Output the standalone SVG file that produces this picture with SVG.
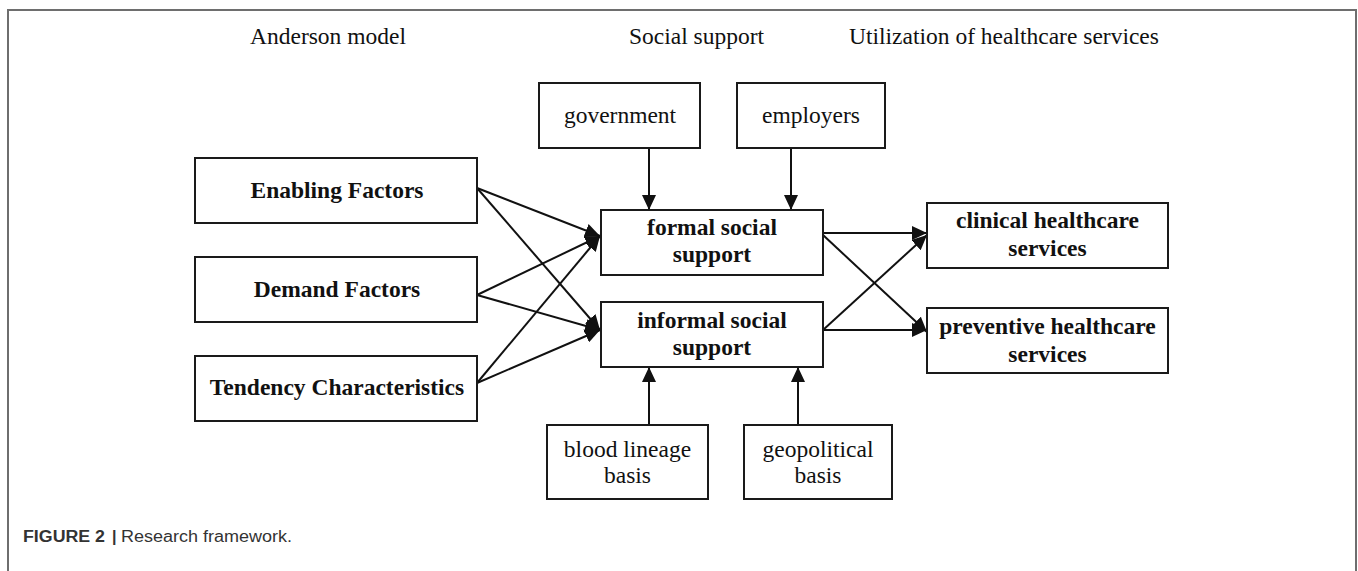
<svg xmlns="http://www.w3.org/2000/svg" width="1358" height="571" viewBox="0 0 1358 571">
  <style>
    .box { fill: #ffffff; stroke: #1a1a1a; stroke-width: 2; }
    .lbl { font-family: "Liberation Serif", "Times New Roman", serif; font-size: 23.5px; fill: #111; text-anchor: middle; }
    .b { font-weight: bold; }
    .head { font-family: "Liberation Serif", "Times New Roman", serif; font-size: 23.5px; fill: #111; }
    .edge { stroke: #111; stroke-width: 2; fill: none; marker-end: url(#arrow); }
    .cap { font-family: "Liberation Sans", Arial, sans-serif; font-size: 16px; fill: #333; }
  </style>
  <defs>
    <marker id="arrow" markerUnits="userSpaceOnUse" markerWidth="16" markerHeight="14" refX="15" refY="7" orient="auto">
      <path d="M0,0 L15,7 L0,14 z" fill="#111"/>
    </marker>
  </defs>

  <rect x="0" y="0" width="1358" height="571" fill="#ffffff"/>

  <!-- outer frame, open at the bottom -->
  <path d="M8,571 L8,10 L1356,10 L1356,571" fill="none" stroke="#6e6e6e" stroke-width="2"/>

  <!-- column headings -->
  <text class="head" x="250" y="44">Anderson model</text>
  <text class="head" x="629" y="44">Social support</text>
  <text class="head" x="849" y="44">Utilization of healthcare services</text>

  <!-- connectors -->
  <g id="connectors">
    <line class="edge" x1="477" y1="188" x2="600" y2="236"/>
    <line class="edge" x1="477" y1="188" x2="600" y2="330"/>
    <line class="edge" x1="477" y1="295" x2="600" y2="236"/>
    <line class="edge" x1="477" y1="295" x2="600" y2="330"/>
    <line class="edge" x1="477" y1="383" x2="600" y2="236"/>
    <line class="edge" x1="477" y1="383" x2="600" y2="330"/>

    <line class="edge" x1="823" y1="233" x2="927" y2="233"/>
    <line class="edge" x1="823" y1="235" x2="927" y2="332"/>
    <line class="edge" x1="823" y1="330" x2="927" y2="330"/>
    <line class="edge" x1="823" y1="330" x2="927" y2="235"/>

    <line class="edge" x1="649" y1="148" x2="649" y2="210"/>
    <line class="edge" x1="791" y1="148" x2="791" y2="210"/>
    <line class="edge" x1="649" y1="425" x2="649" y2="367"/>
    <line class="edge" x1="798" y1="425" x2="798" y2="367"/>
  </g>

  <!-- Anderson model factors -->
  <g id="enabling">
    <rect class="box" x="195" y="158" width="282" height="65"/>
    <text class="lbl b" x="337" y="198">Enabling Factors</text>
  </g>
  <g id="demand">
    <rect class="box" x="195" y="257" width="282" height="65"/>
    <text class="lbl b" x="337" y="297">Demand Factors</text>
  </g>
  <g id="tendency">
    <rect class="box" x="195" y="356" width="282" height="65"/>
    <text class="lbl b" x="337" y="395">Tendency Characteristics</text>
  </g>

  <!-- social support sources -->
  <g id="government">
    <rect class="box" x="539" y="83" width="161" height="65"/>
    <text class="lbl" x="620" y="123">government</text>
  </g>
  <g id="employers">
    <rect class="box" x="737" y="83" width="148" height="65"/>
    <text class="lbl" x="811" y="123">employers</text>
  </g>
  <g id="blood-lineage">
    <rect class="box" x="547" y="425" width="161" height="74"/>
    <text class="lbl" x="627.5" y="457">blood lineage</text>
    <text class="lbl" x="627.5" y="483">basis</text>
  </g>
  <g id="geopolitical">
    <rect class="box" x="744" y="425" width="148" height="74"/>
    <text class="lbl" x="818" y="457">geopolitical</text>
    <text class="lbl" x="818" y="483">basis</text>
  </g>

  <!-- social support -->
  <g id="formal">
    <rect class="box" x="601" y="210" width="222" height="65"/>
    <text class="lbl b" x="712" y="235">formal social</text>
    <text class="lbl b" x="712" y="262">support</text>
  </g>
  <g id="informal">
    <rect class="box" x="601" y="302" width="222" height="65"/>
    <text class="lbl b" x="712" y="328">informal social</text>
    <text class="lbl b" x="712" y="355">support</text>
  </g>

  <!-- healthcare services -->
  <g id="clinical">
    <rect class="box" x="927" y="203" width="241" height="65"/>
    <text class="lbl b" x="1047.5" y="228">clinical healthcare</text>
    <text class="lbl b" x="1047.5" y="256">services</text>
  </g>
  <g id="preventive">
    <rect class="box" x="927" y="308" width="241" height="65"/>
    <text class="lbl b" x="1047.5" y="334">preventive healthcare</text>
    <text class="lbl b" x="1047.5" y="362">services</text>
  </g>

  <!-- caption -->
  <text class="cap" x="23" y="542" font-weight="bold" textLength="82" lengthAdjust="spacingAndGlyphs">FIGURE 2</text>
  <text class="cap" x="112" y="542" font-weight="bold">|</text>
  <text class="cap" x="121" y="542" textLength="171" lengthAdjust="spacingAndGlyphs">Research framework.</text>
</svg>
